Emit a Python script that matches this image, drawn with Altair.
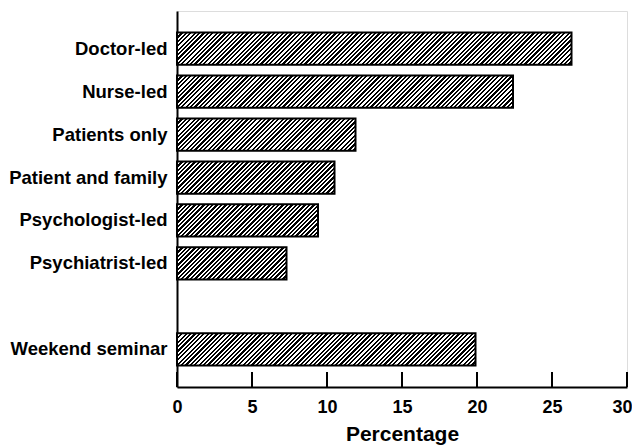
import altair as alt
import pandas as pd

categories = ["Doctor-led", "Nurse-led", "Patients only", "Patient and family",
              "Psychologist-led", "Psychiatrist-led", "Weekend seminar"]
values = [26.3, 22.4, 11.9, 10.5, 9.4, 7.3, 19.9]
y_order = categories[:6] + [" "] + [categories[6]]
tick_values = [0, 5, 10, 15, 20, 25, 30]

W_PLOT, H_PLOT = 450, 376
PI, PO = 0.25, 0.5
FONT = "Liberation Sans"

step = H_PLOT / (len(y_order) - PI + 2 * PO)
band = step * (1 - PI)


def hatch(w, h, period=4.4, frac=0.52):
    n = (w + h) / period
    stops = []
    k = 0
    while k < n:
        a = k / n
        b = min((k + frac) / n, 1)
        c = min((k + 1) / n, 1)
        stops += [{"offset": a, "color": "black"}, {"offset": b, "color": "black"},
                  {"offset": b, "color": "white"}, {"offset": c, "color": "white"}]
        k += 1
    r = h / w
    s = (1 + r) / (1 + r * r)
    return {"gradient": "linear", "stops": stops, "x1": 0, "y1": 0, "x2": s, "y2": s * r}


df = pd.DataFrame({"cat": categories, "val": values})
ticks_df = pd.DataFrame({"t": tick_values})

x_enc = alt.X("val:Q", scale=alt.Scale(domain=[0, 30], nice=False),
              axis=alt.Axis(values=tick_values, ticks=False, grid=False, title="Percentage",
                            labelFlush=False,
                            labelOffset=alt.expr("datum.value == 30 ? -5 : 0"),
                            labelFont=FONT, labelFontSize=18, labelFontWeight="bold",
                            labelColor="black", labelPadding=11,
                            titleFont=FONT, titleFontSize=21, titleFontWeight="bold",
                            titleColor="black", titlePadding=7,
                            domainColor="black", domainWidth=2))
y_enc = alt.Y("cat:N", sort=y_order,
              scale=alt.Scale(domain=y_order, paddingInner=PI, paddingOuter=PO),
              axis=alt.Axis(ticks=False, grid=False, title=None, labelFont=FONT,
                            labelFontSize=18.5, labelFontWeight="bold", labelColor="black",
                            labelPadding=10, domainColor="black", domainWidth=2))

layers = []
for c, v in zip(categories, values):
    layers.append(
        alt.Chart(df).transform_filter(alt.datum.cat == c)
        .mark_bar(stroke="black", strokeWidth=2, fill=hatch(v * W_PLOT / 30, band))
        .encode(x=x_enc, y=y_enc)
    )

tick_rules = alt.Chart(ticks_df).mark_rule(color="black", strokeWidth=2).encode(
    x=alt.X("t:Q", scale=alt.Scale(domain=[0, 30], nice=False)),
    y=alt.value(H_PLOT - 15),
    y2=alt.value(H_PLOT),
)

chart = alt.layer(*layers, tick_rules).properties(
    width=W_PLOT, height=H_PLOT,
    autosize=alt.AutoSizeParams(type="none"),
    padding={"top": 3, "left": 169, "right": 5, "bottom": 62},
).configure_view(stroke=None).configure(background="white")

chart.save("out.html", embed_options={"renderer": "svg", "actions": False})
